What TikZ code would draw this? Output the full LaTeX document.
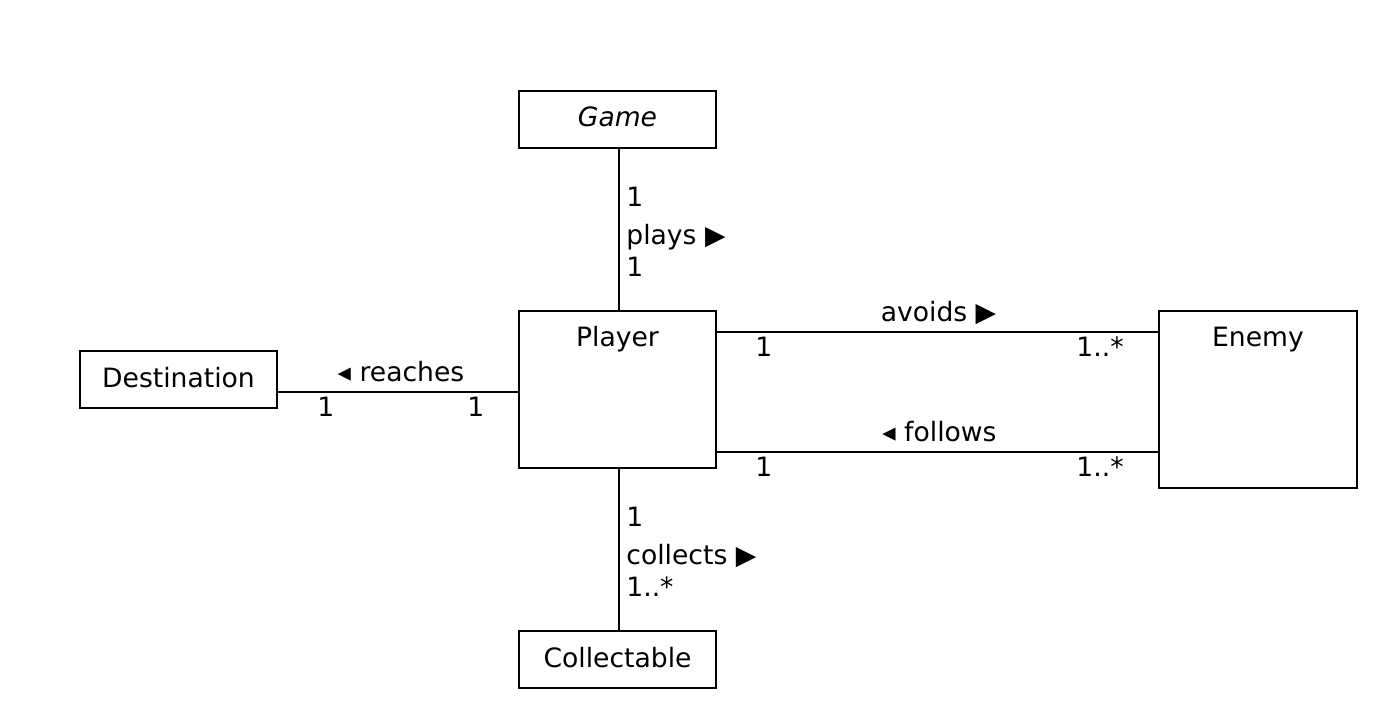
\documentclass[tikz,border=0pt]{standalone}
\usepackage{fontspec}
\setmainfont{DejaVu Sans}
\begin{document}
\begin{tikzpicture}[x=0.5pt,y=-0.5pt,
  font=\fontsize{13.3pt}{15pt}\selectfont,
  box/.style={draw, line width=1pt, inner sep=0pt, outer sep=0pt},
  conn/.style={line width=1pt},
  lblw/.style={inner sep=0pt, anchor=base west},
  lble/.style={inner sep=0pt, anchor=base east},
  lblc/.style={inner sep=0pt, anchor=base}]
\useasboundingbox (0,0) rectangle (1398,726);
% classes
\node[box, minimum width=98.5pt, minimum height=28.5pt] (game) at (617.5,119.5) {};
\node[lblc] (gamet) at (617.5,127) {\itshape Game};
\node[box, minimum width=98.5pt, minimum height=78.5pt] (player) at (617.5,389.5) {};
\node[box, minimum width=98.5pt, minimum height=28.5pt] (dest) at (178.5,379.5) {};
\node[lblc] (destt) at (178.5,388) {Destination};
\node[box, minimum width=99pt, minimum height=88.5pt] (enemy) at (1258,399.5) {};
\node[box, minimum width=98.5pt, minimum height=28.5pt] (coll) at (617.5,659.5) {};
\node[lblc] (collt) at (617.5,668) {Collectable};
\node[lblc] (playert) at (617.5,347) {Player};
\node[lblc] (enemyt) at (1258,347) {Enemy};
% helper coordinates for connector heights
\coordinate (yreach) at (0,392);
\coordinate (yavoid) at (0,332);
\coordinate (yfollow) at (0,452);
\coordinate (xvert) at (619,0);
% connectors
\draw[conn] (game.south -| xvert) -- (player.north -| xvert);
\draw[conn] (player.south -| xvert) -- (coll.north -| xvert);
\draw[conn] (dest.east |- yreach) -- (player.west |- yreach);
\draw[conn] (player.east |- yavoid) -- (enemy.west |- yavoid);
\draw[conn] (player.east |- yfollow) -- (enemy.west |- yfollow);
% plays
\node[lblw] (p1) at (626,207) {1};
\node[lblw] (pl) at (626,245) {plays ▶};
\node[lblw] (p2) at (626,277) {1};
% collects
\node[lblw] (c1) at (626,527) {1};
\node[lblw] (cl) at (626,565) {collects ▶};
\node[lblw] (c2) at (626,597) {1..*};
% reaches
\node[lblc] (rl) at (401,382) {◂ reaches};
\node[lblw] (r1) at (317,417) {1};
\node[lblw] (r2) at (467,417) {1};
% avoids
\node[lblc] (al) at (938.5,322) {avoids ▶};
\node[lblw] (a1) at (755,357) {1};
\node[lble] (a2) at (1124,357) {1..*};
% follows
\node[lblc] (fl) at (939.5,442) {◂ follows};
\node[lblw] (f1) at (755,477) {1};
\node[lble] (f2) at (1124,477) {1..*};
\end{tikzpicture}
\end{document}
